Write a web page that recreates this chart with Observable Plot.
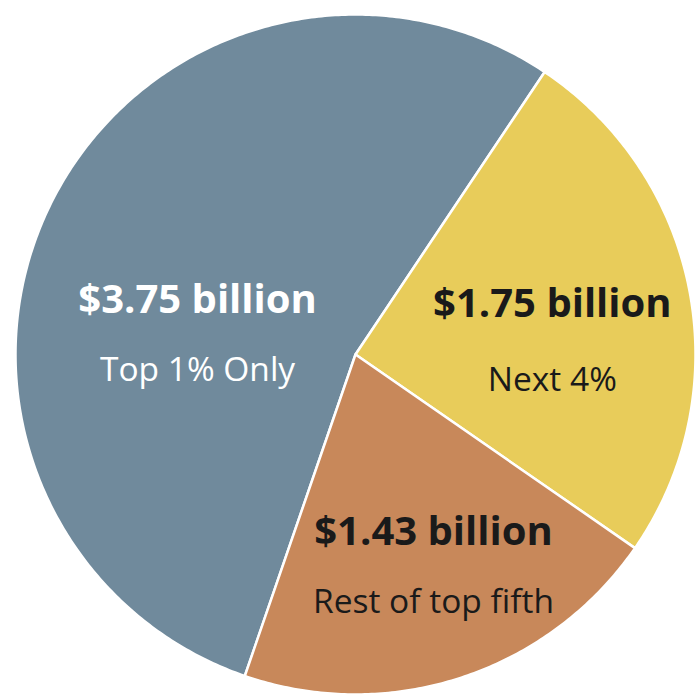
<!DOCTYPE html>
<html>
<head>
<meta charset="utf-8">
<script src="https://cdn.jsdelivr.net/npm/d3@7"></script>
<script src="https://cdn.jsdelivr.net/npm/@observablehq/plot@0.6"></script>
<style>
  html, body { margin: 0; padding: 0; background: #ffffff; }
  #chart svg { display: block; }
</style>
</head>
<body>
<div id="chart"></div>
<script>
// ---- data ----
const groups = ["Top 1% Only", "Next 4%", "Rest of top fifth"];
const amounts = [3.75, 1.75, 1.43];
const valueLabels = ["$3.75 billion", "$1.75 billion", "$1.43 billion"];

// ---- styling ----
const sliceColors = ["#708a9c", "#e8cc5a", "#c8885a"];
const textColors = ["#ffffff", "#1a1a1a", "#1a1a1a"];
const startDeg = -161;
const labelRadius = [0.468, 0.58, 0.666];   // fraction of pie radius
const labelShiftDeg = [-19.5, 7.25, -2];    // offset from the slice's mid-angle
const labelGap = [35, 38, 35];              // px from block centre to each line

const start = startDeg * Math.PI / 180;
const arcs = d3.pie().sort(null).startAngle(start).endAngle(start + 2 * Math.PI)(amounts);

const slicePoints = [];
arcs.forEach((p, i) => {
  slicePoints.push({group: groups[i], x: 0, y: 0});
  const n = Math.max(2, Math.ceil((p.endAngle - p.startAngle) / 0.01));
  for (let k = 0; k <= n; k++) {
    const a = p.startAngle + (p.endAngle - p.startAngle) * k / n;
    slicePoints.push({group: groups[i], x: Math.sin(a), y: Math.cos(a)});
  }
});

const labels = arcs.map((p, i) => {
  const a = (p.startAngle + p.endAngle) / 2 + labelShiftDeg[i] * Math.PI / 180;
  return {
    group: groups[i],
    value: valueLabels[i],
    x: labelRadius[i] * Math.sin(a),
    y: labelRadius[i] * Math.cos(a),
    color: textColors[i],
    gap: labelGap[i]
  };
});

const font = "'Open Sans', 'Noto Sans', sans-serif";

const textMarks = labels.flatMap(d => [
  Plot.text([d], {
    x: "x", y: "y", text: "value", dy: -d.gap,
    fill: d.color, fontSize: 40, fontWeight: "bold", fontFamily: font
  }),
  Plot.text([d], {
    x: "x", y: "y", text: "group", dy: d.gap,
    fill: d.color, fontSize: 33.5, fontWeight: "normal", fontFamily: font
  })
]);

const chart = Plot.plot({
  width: 695,
  height: 696,
  margin: 0,
  x: {domain: [-355 / 340, 340 / 340], axis: null},
  y: {domain: [-342 / 340, 354 / 340], axis: null},
  color: {domain: groups, range: sliceColors},
  style: {background: "#ffffff"},
  marks: [
    Plot.line(slicePoints, {
      x: "x", y: "y", z: "group", fill: "group",
      stroke: "#ffffff", strokeWidth: 2.5, strokeLinejoin: "round",
      curve: "linear-closed"
    }),
    ...textMarks
  ]
});

document.getElementById("chart").appendChild(chart);
</script>
</body>
</html>
